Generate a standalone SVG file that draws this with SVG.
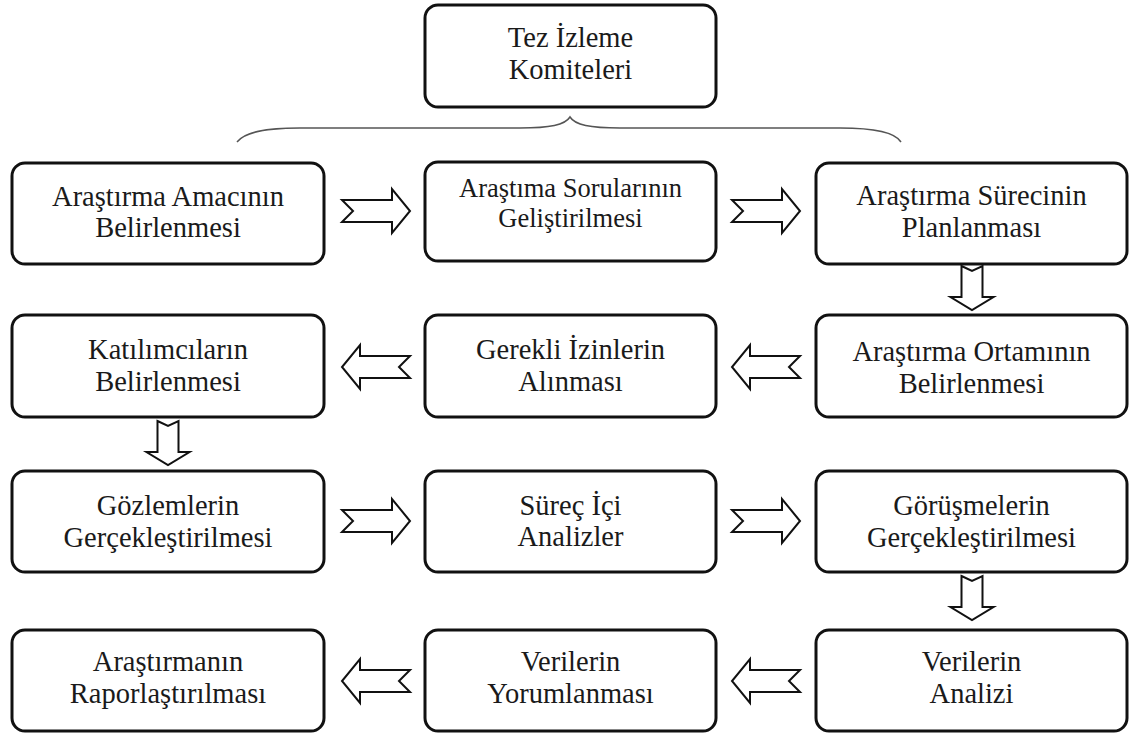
<svg xmlns="http://www.w3.org/2000/svg" width="1129" height="738" viewBox="0 0 1129 738">
<style>
.box{fill:#fff;stroke:#111;stroke-width:3}
.arr{fill:#fff;stroke:#111;stroke-width:2;stroke-linejoin:miter}
text{font-family:'Liberation Serif', 'DejaVu Serif', serif;font-size:28.5px;fill:#1a1a1a;text-anchor:middle}
.sm{font-size:26.5px}
.brace{fill:none;stroke:#555;stroke-width:1.5}
</style>
<defs>
<path id="ar" class="arr" d="M -34,-11 H 16 V -22 L 34,0 L 16,22 V 11 H -34 L -23,0 Z"/>
<path id="ad" class="arr" d="M -10.5,0 L 0,5 L 10.5,0 V 31 H 21.5 L 0,44 L -21.5,31 H -10.5 Z"/>
</defs>
<rect width="1129" height="738" fill="#fff"/>
<g font-family="Liberation Serif, DejaVu Serif, serif">
<g id="n0"><rect class="box" x="425" y="5" width="291" height="102" rx="13"/><text x="570.5" y="47">Tez İzleme</text><text x="570.5" y="79">Komiteleri</text></g>
<g id="n1"><rect class="box" x="12" y="163" width="312" height="101" rx="13"/><text x="168" y="206">Araştırma Amacının</text><text x="168" y="237">Belirlenmesi</text></g>
<g id="n2"><rect class="box" x="425" y="162" width="291" height="99" rx="13"/><text class="sm" x="570.5" y="197">Araştıma Sorularının</text><text class="sm" x="570.5" y="227">Geliştirilmesi</text></g>
<g id="n3"><rect class="box" x="816" y="163" width="311" height="101" rx="13"/><text x="971.5" y="205">Araştırma Sürecinin</text><text x="971.5" y="237">Planlanması</text></g>
<g id="n4"><rect class="box" x="12" y="315" width="312" height="102" rx="13"/><text x="168" y="359">Katılımcıların</text><text x="168" y="391">Belirlenmesi</text></g>
<g id="n5"><rect class="box" x="425" y="315" width="291" height="102" rx="13"/><text x="570.5" y="359">Gerekli İzinlerin</text><text x="570.5" y="391">Alınması</text></g>
<g id="n6"><rect class="box" x="816" y="315" width="311" height="102" rx="13"/><text x="971.5" y="361">Araştırma Ortamının</text><text x="971.5" y="393">Belirlenmesi</text></g>
<g id="n7"><rect class="box" x="12" y="471" width="312" height="101" rx="13"/><text x="168" y="515">Gözlemlerin</text><text x="168" y="547">Gerçekleştirilmesi</text></g>
<g id="n8"><rect class="box" x="425" y="471" width="291" height="101" rx="13"/><text x="570.5" y="515">Süreç İçi</text><text x="570.5" y="546">Analizler</text></g>
<g id="n9"><rect class="box" x="816" y="471" width="311" height="101" rx="13"/><text x="971.5" y="515">Görüşmelerin</text><text x="971.5" y="547">Gerçekleştirilmesi</text></g>
<g id="n10"><rect class="box" x="12" y="630" width="312" height="101" rx="13"/><text x="168" y="671">Araştırmanın</text><text x="168" y="703">Raporlaştırılması</text></g>
<g id="n11"><rect class="box" x="425" y="630" width="291" height="101" rx="13"/><text x="570.5" y="671">Verilerin</text><text x="570.5" y="703">Yorumlanması</text></g>
<g id="n12"><rect class="box" x="816" y="630" width="311" height="101" rx="13"/><text x="971.5" y="671">Verilerin</text><text x="971.5" y="703">Analizi</text></g>
</g>
<path class="brace" d="M 237,142 C 245,132 265,128 300,128 L 520,128 C 550,128 565,125 570,117 C 575,125 590,128 620,128 L 840,128 C 875,128 895,132 901,142"/>
<g id="connectors">
<use href="#ar" transform="translate(376,211)"/>
<use href="#ar" transform="translate(766,211)"/>
<use href="#ad" transform="translate(972,266)"/>
<use href="#ar" transform="translate(766,367) scale(-1,1)"/>
<use href="#ar" transform="translate(376,367) scale(-1,1)"/>
<use href="#ad" transform="translate(168,421)"/>
<use href="#ar" transform="translate(376,521)"/>
<use href="#ar" transform="translate(766,521)"/>
<use href="#ad" transform="translate(972,576)"/>
<use href="#ar" transform="translate(766,681) scale(-1,1)"/>
<use href="#ar" transform="translate(376,681) scale(-1,1)"/>
</g>
</svg>
